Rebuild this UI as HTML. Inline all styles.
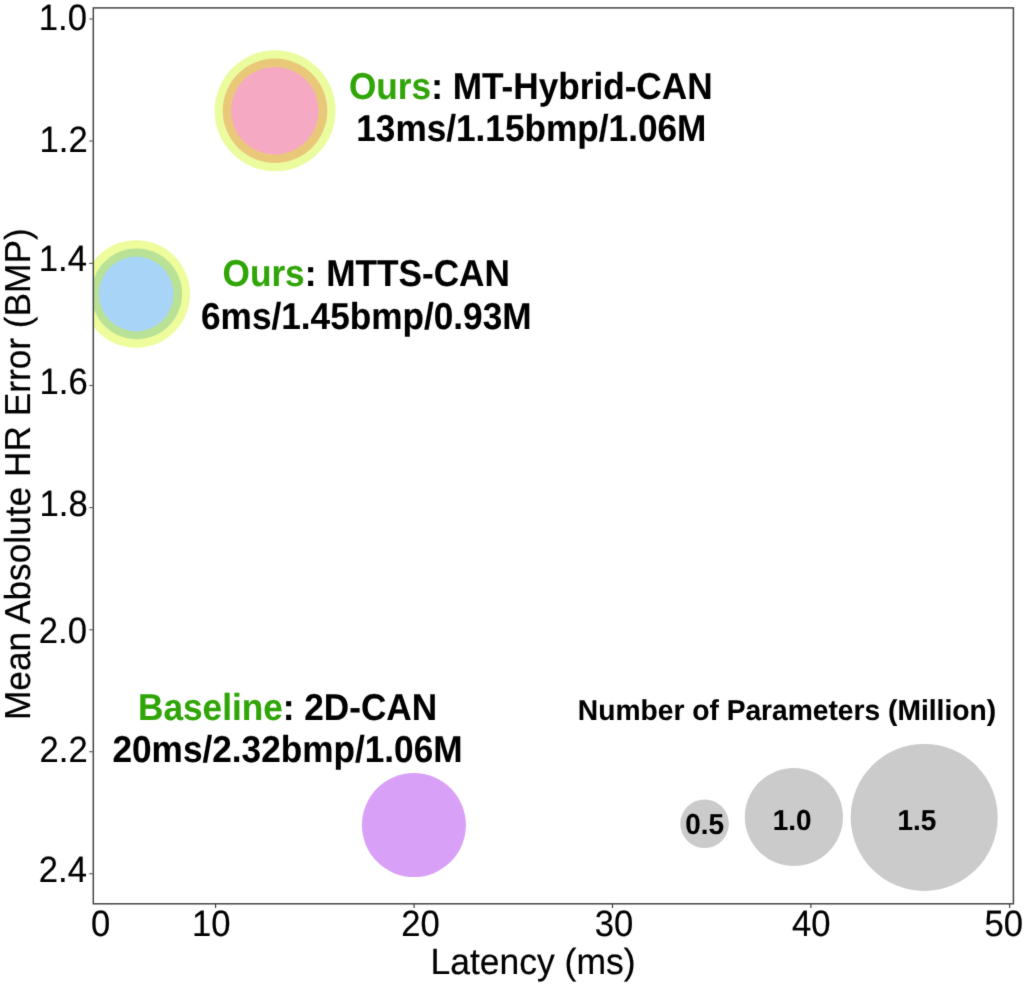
<!DOCTYPE html>
<html lang="en">
<head>
<meta charset="utf-8">
<title>Latency vs Mean Absolute HR Error</title>
<style>
  html, body { margin: 0; padding: 0; background: #ffffff; }
  body { width: 1024px; height: 986px; overflow: hidden; }
  svg { display: block; }
  text { font-family: "Liberation Sans", sans-serif; text-rendering: geometricPrecision; fill: #000; stroke: #000; stroke-linejoin: round; }
  .tick { font-size: 34.6px; stroke-width: 0.2px; }
  .axis { font-size: 35.25px; stroke-width: 0.2px; }
  .axisx { font-size: 35.5px; stroke-width: 0.2px; }
  .lab  { font-size: 35.2px; font-weight: bold; stroke-width: 0.1px; }
  .leg  { font-size: 28.2px; font-weight: bold; stroke-width: 0.1px; }
  .num  { font-size: 27.9px; font-weight: bold; stroke-width: 0.1px; }
  .g { fill: #30a508; stroke: #30a508; }
</style>
</head>
<body>
<svg width="1024" height="986" viewBox="0 0 1024 986">
  <rect x="0" y="0" width="1024" height="986" fill="#ffffff"/>
  <defs>
    <clipPath id="plot"><rect x="93.3" y="7.9" width="920.1" height="895.9"/></clipPath>
    <!-- very light 3x3 softening, the source figure is slightly soft -->
    <filter id="soft" filterUnits="userSpaceOnUse" x="0" y="0" width="1024" height="986" color-interpolation-filters="sRGB">
      <feConvolveMatrix order="3" kernelMatrix="0.01 0.08 0.01 0.08 0.64 0.08 0.01 0.08 0.01" divisor="1" edgeMode="duplicate" preserveAlpha="true"/>
    </filter>
  </defs>
  <g filter="url(#soft)">
  <rect x="0" y="0" width="1024" height="986" fill="#ffffff"/>
  <!-- bubbles -->
  <g clip-path="url(#plot)">
    <circle cx="275.1" cy="110.8" r="60.5" fill="#ebfc9e"/>
    <circle cx="275.0" cy="110.7" r="52.3" fill="#e9c979"/>
    <circle cx="274.8" cy="110.8" r="43.8" fill="#f5a9c3"/>
    <circle cx="136.2" cy="294.0" r="53.8" fill="#eefc9c"/>
    <circle cx="136.7" cy="293.8" r="45.4" fill="#b9e296"/>
    <circle cx="136.2" cy="294.0" r="37.4" fill="#a8d4f7"/>
    <circle cx="413.9" cy="825.1" r="52" fill="#d9a0f7"/>
    <circle cx="704.6" cy="823.7" r="24.3" fill="#cbcbcb"/>
    <circle cx="793.9" cy="817.0" r="49.1" fill="#cbcbcb"/>
    <circle cx="924.2" cy="817.4" r="73.5" fill="#cbcbcb"/>
  </g>
  <rect x="93.3" y="7.9" width="920.1" height="895.9" fill="none" stroke="#484848" stroke-width="1.5"/>
  <g stroke="#5e5e5e" stroke-width="1.15">
    <line x1="89.2" x2="93.3" y1="19.0" y2="19.0"/>
    <line x1="89.2" x2="93.3" y1="141.0" y2="141.0"/>
    <line x1="89.2" x2="93.3" y1="263.4" y2="263.4"/>
    <line x1="89.2" x2="93.3" y1="385.5" y2="385.5"/>
    <line x1="89.2" x2="93.3" y1="507.6" y2="507.6"/>
    <line x1="89.2" x2="93.3" y1="629.8" y2="629.8"/>
    <line x1="89.2" x2="93.3" y1="751.7" y2="751.7"/>
    <line x1="89.2" x2="93.3" y1="873.7" y2="873.7"/>
  </g>
  <g stroke="#3c3c3c" stroke-width="1.15">
    <line x1="215.6" x2="215.6" y1="903.8" y2="908.0"/>
    <line x1="414.1" x2="414.1" y1="903.8" y2="908.0"/>
    <line x1="612.5" x2="612.5" y1="903.8" y2="908.0"/>
    <line x1="810.9" x2="810.9" y1="903.8" y2="908.0"/>
    <line x1="1009.6" x2="1009.6" y1="903.8" y2="908.0"/>
  </g>
  <!-- y tick labels -->
  <text class="tick" text-anchor="end" transform="translate(86.9 29.5) scale(1 1.058)">1.0</text>
  <text class="tick" text-anchor="end" transform="translate(87.7 152.1) scale(1 1.058)">1.2</text>
  <text class="tick" text-anchor="end" transform="translate(86.9 270.6) scale(1 1.058)">1.4</text>
  <text class="tick" text-anchor="end" transform="translate(87.7 393.6) scale(1 1.058)">1.6</text>
  <text class="tick" text-anchor="end" transform="translate(87.7 515.7) scale(1 1.058)">1.8</text>
  <text class="tick" text-anchor="end" transform="translate(86.9 642.9) scale(1 1.058)">2.0</text>
  <text class="tick" text-anchor="end" transform="translate(87.7 762.3) scale(1 1.058)">2.2</text>
  <text class="tick" text-anchor="end" transform="translate(86.9 881.6) scale(1 1.058)">2.4</text>
  <!-- x tick labels -->
  <text class="tick" text-anchor="middle" transform="translate(100.6 935.6) scale(1 1.058)">0</text>
  <text class="tick" text-anchor="middle" transform="translate(211.2 935.6) scale(1 1.058)">10</text>
  <text class="tick" text-anchor="middle" transform="translate(420.4 935.6) scale(1 1.058)">20</text>
  <text class="tick" text-anchor="middle" transform="translate(613.9 935.6) scale(1 1.058)">30</text>
  <text class="tick" text-anchor="middle" transform="translate(811.2 935.6) scale(1 1.058)">40</text>
  <text class="tick" text-anchor="middle" transform="translate(1003.8 935.6) scale(1 1.058)">50</text>
  <!-- axis labels -->
  <text class="axisx" text-anchor="middle" transform="translate(533.0 974.0) scale(1 1.025)">Latency (ms)</text>
  <text class="axis" text-anchor="middle" transform="translate(30.0 474.2) rotate(-90) scale(1 1.025)">Mean Absolute HR Error (BMP)</text>
  <!-- annotations -->
  <text class="lab" text-anchor="middle" transform="translate(530.8 98.85) scale(1 1.062)"><tspan class="g">Ours</tspan>: MT-Hybrid-CAN</text>
  <text class="lab" text-anchor="middle" transform="translate(531.3 140.6) scale(1 1.062)">13ms/1.15bmp/1.06M</text>
  <text class="lab" text-anchor="middle" transform="translate(366.2 286.15) scale(1 1.062)"><tspan class="g">Ours</tspan>: MTTS-CAN</text>
  <text class="lab" text-anchor="middle" transform="translate(366.3 328.6) scale(1 1.062)">6ms/1.45bmp/0.93M</text>
  <text class="lab" text-anchor="middle" transform="translate(287.6 720.05) scale(1 1.062)"><tspan class="g">Baseline</tspan>: 2D-CAN</text>
  <text class="lab" text-anchor="middle" transform="translate(287.5 761.95) scale(1 1.062)">20ms/2.32bmp/1.06M</text>
  <!-- legend -->
  <text class="leg" text-anchor="middle" transform="translate(786.95 719.6) scale(1 1.02)">Number of Parameters (Million)</text>
  <text class="num" text-anchor="middle" transform="translate(704.7 833.6) scale(1 1.035)">0.5</text>
  <text class="num" text-anchor="middle" transform="translate(792.2 829.6) scale(1 1.035)">1.0</text>
  <text class="num" text-anchor="middle" transform="translate(917.0 829.6) scale(1 1.035)">1.5</text>
  </g>
</svg>
</body>
</html>
